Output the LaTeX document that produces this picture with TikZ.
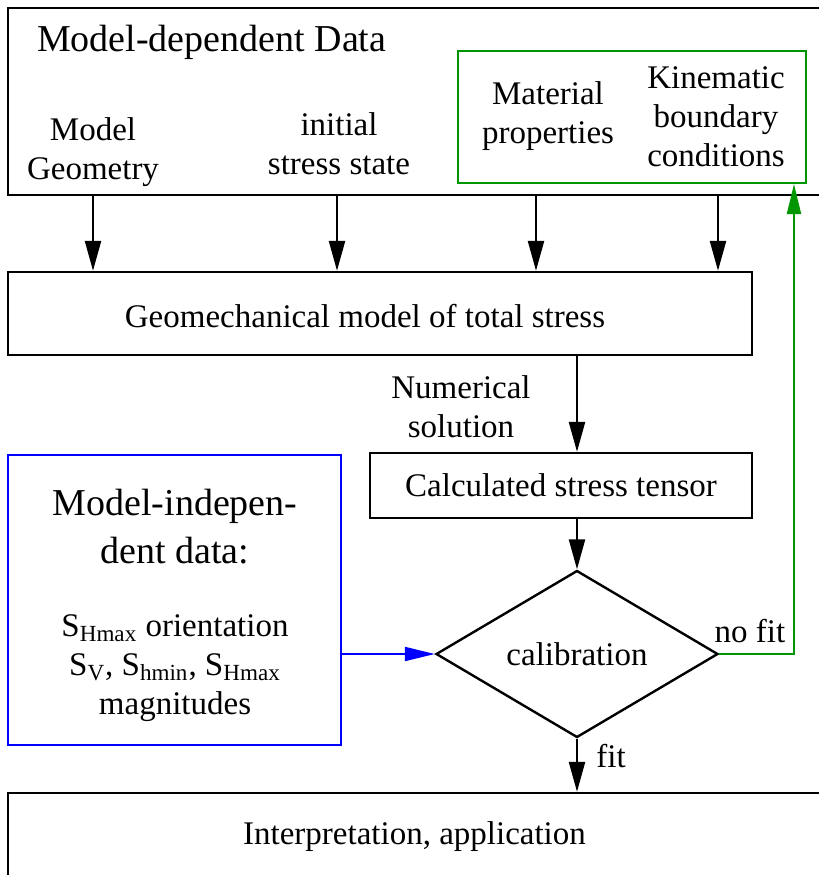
\documentclass[tikz,border=0pt]{standalone}
\usepackage{fontspec}
\setmainfont{Liberation Serif}
\usetikzlibrary{shapes.geometric,arrows.meta}
\definecolor{fitgreen}{RGB}{0,150,0}
\begin{document}
\begin{tikzpicture}[x=0.5pt, y=-0.5pt]
\tikzstyle{every node} = [align=center, font=\fontsize{16.5}{19.5}\selectfont]
\tikzstyle{box} = [draw, line width=1.2pt, inner sep=0pt]
\tikzstyle{arr} = [line width=1.2pt, -{Triangle[length=15pt, width=8pt]}]
\tikzstyle{thinarr} = [line width=1pt, -{Triangle[length=15pt, width=7pt]}]
\tikzstyle{big} = [font=\fontsize{19}{24}\selectfont]
\useasboundingbox (0,0) rectangle (819,875);
\node[box, minimum width=406.5pt, minimum height=93.5pt] (data) at (414.5,101.5) {};
\node[big, anchor=west] (title) at (30,42) {Model-dependent Data};
\node (geo) at (93,152) {Model\\ Geometry};
\node (init) at (339,144) {initial\\ stress state};
\node[draw=fitgreen, line width=1pt, minimum width=174pt, minimum height=66pt] (kinbox) at (632,117) {};
\node (mat) at (548,116) {Material\\ properties};
\node (kin) at (716,117) {Kinematic\\ boundary\\ conditions};
\node[box, minimum width=372pt, minimum height=41.5pt] (model) at (380,313.5) {};
\node (modeltxt) at (365,316) {Geomechanical model of total stress};
\node[box, minimum width=191pt, minimum height=32.5pt] (calc) at (561,485.5) {Calculated stress tensor};
\node (nsol) at (461,407) {Numerical\\ solution};
\node[draw, line width=1.2pt, diamond, aspect=1.69, inner sep=0pt, minimum width=141pt, minimum height=83.5pt] (calib) at (577,654) {calibration};
\node[draw=blue, line width=1pt, minimum width=166.5pt, minimum height=145pt] (indep) at (174.5,600) {};
\node[big] (indeptitle) at (175,527) {Model-indepen-\\ dent data:};
\node (indeptxt) at (175,668) {S\textsubscript{Hmax} orientation\\ S\textsubscript{V}, S\textsubscript{hmin}, S\textsubscript{Hmax}\\ magnitudes};
\node[box, minimum width=406.5pt, minimum height=43.5pt] (result) at (414.5,836.5) {Interpretation, application};
\node (fit) at (611,756) {fit};
\node (nofit) at (750,631) {no fit};
\foreach \n/\dx in {geo/0, init/-1, mat/-6, kin/1}
\draw [arr] ([xshift=\dx pt]data.south -| \n) -- ([xshift=\dx pt]model.north -| \n);
\draw [arr] (model.south -| calib) -- (calc.north -| calib);
\draw [arr] (calc.south -| calib) -- (calib.north);
\draw [arr] (calib.south) -- (result.north -| calib);
\draw [thinarr, blue] (indep.east |- calib) -- (calib.west);
\draw [thinarr, fitgreen] (calib.east) -| ([xshift=-6.5pt]kinbox.south east);
\end{tikzpicture}
\end{document}
